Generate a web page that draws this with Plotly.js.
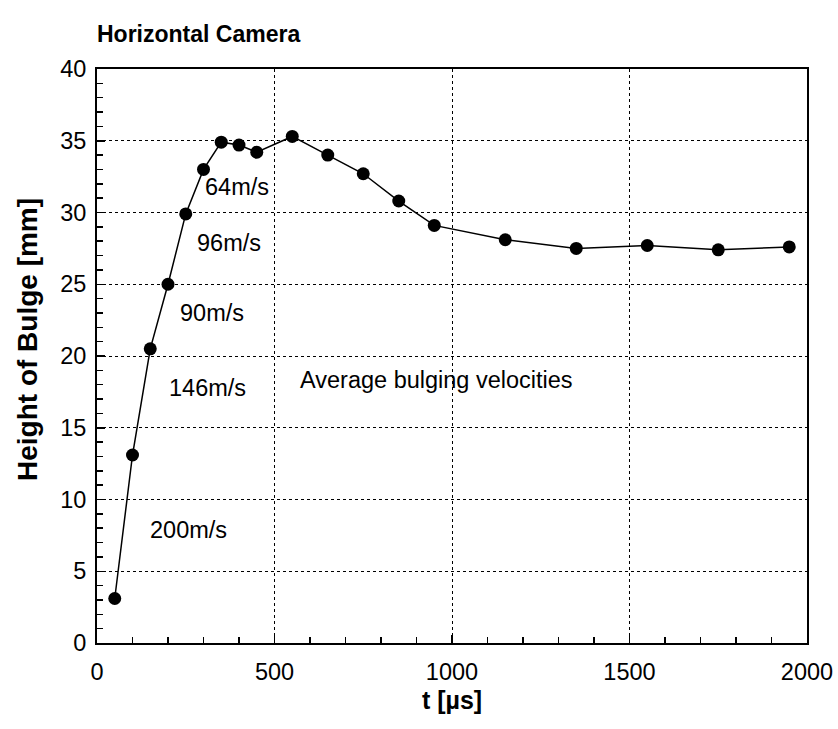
<!DOCTYPE html>
<html>
<head>
<meta charset="utf-8">
<script src="https://cdn.plot.ly/plotly-3.0.1.min.js"></script>
<style>html,body{margin:0;padding:0;background:#fff;}</style>
</head>
<body>
<div id="chart" style="width:838px;height:729px;"></div>
<script>
const timeUs = [50, 100, 150, 200, 250, 300, 350, 400, 450, 550, 650, 750, 850, 950, 1150, 1350, 1550, 1750, 1950];
const heightMm = [3.1, 13.1, 20.5, 25.0, 29.9, 33.0, 34.9, 34.7, 34.2, 35.3, 34.0, 32.7, 30.8, 29.1, 28.1, 27.5, 27.7, 27.4, 27.6];

const labelTexts = ["64m/s", "96m/s", "90m/s", "146m/s", "200m/s", "Average bulging velocities"];
const labelX = [394, 372, 324, 310, 259, 955];
const labelY = [31.8, 27.9, 23.0, 17.8, 7.9, 18.3];

const font = "Liberation Sans, Arial, sans-serif";

const L = 97, R = 31, T = 69, B = 86, W = 838, H = 729;
const pw = W - L - R, ph = H - T - B;

const annotations = labelTexts.map((t, i) => ({
  x: labelX[i], y: labelY[i], xref: 'x', yref: 'y', text: t, showarrow: false,
  font: {family: font, size: 23.5, color: '#000'}, xanchor: 'center', yanchor: 'middle'
}));

annotations.push({
  x: (27 - L) / pw, y: (H - B - 340) / ph, xref: 'paper', yref: 'paper', xanchor: 'center', yanchor: 'middle',
  text: '<b>Height of Bulge [mm]</b>', textangle: -90, showarrow: false,
  font: {family: font, size: 28, color: '#000'}
});

const data = [{
  x: timeUs, y: heightMm, type: 'scatter', mode: 'lines+markers',
  line: {color: '#000', width: 1.5},
  marker: {color: '#000', size: 13},
  showlegend: false, cliponaxis: false
}];

const layout = {
  width: W, height: H,
  margin: {l: L, r: R, t: T, b: B},
  paper_bgcolor: '#fff', plot_bgcolor: '#fff',
  font: {family: font, color: '#000'},
  title: {text: '<b>Horizontal Camera</b>', x: 97/838, xanchor: 'left', y: 1 - 34/729, yanchor: 'middle',
          font: {family: font, size: 23, color: '#000'}},
  xaxis: {
    range: [0, 2000], tickvals: [0, 500, 1000, 1500, 2000], ticks: 'inside', ticklen: 8, tickwidth: 1.5,
    tickcolor: '#000', showline: true, linecolor: '#000', linewidth: 2, mirror: true,
    showgrid: true, gridcolor: '#000', gridwidth: 1, griddash: 'dot', zeroline: false,
    minor: {dtick: 100, ticks: 'inside', ticklen: 6, tickcolor: '#000', tickwidth: 1.5, showgrid: false},
    tickfont: {family: font, size: 23.5, color: '#000'}, ticklabelstandoff: 7,
    title: {text: '<b>t [µs]</b>', font: {family: font, size: 25, color: '#000'}, standoff: 7}
  },
  yaxis: {
    range: [0, 40], tickvals: [0, 5, 10, 15, 20, 25, 30, 35, 40], ticks: 'inside', ticklen: 8, tickwidth: 1.5,
    tickcolor: '#000', showline: true, linecolor: '#000', linewidth: 2, mirror: true,
    showgrid: true, gridcolor: '#000', gridwidth: 1, griddash: 'dot', zeroline: false,
    minor: {dtick: 1, ticks: 'inside', ticklen: 6, tickcolor: '#000', tickwidth: 1.5, showgrid: false},
    tickfont: {family: font, size: 23.5, color: '#000'}, ticklabelstandoff: 4
  },
  annotations: annotations
};

Plotly.newPlot('chart', data, layout, {displayModeBar: false, staticPlot: true});
</script>
</body>
</html>
